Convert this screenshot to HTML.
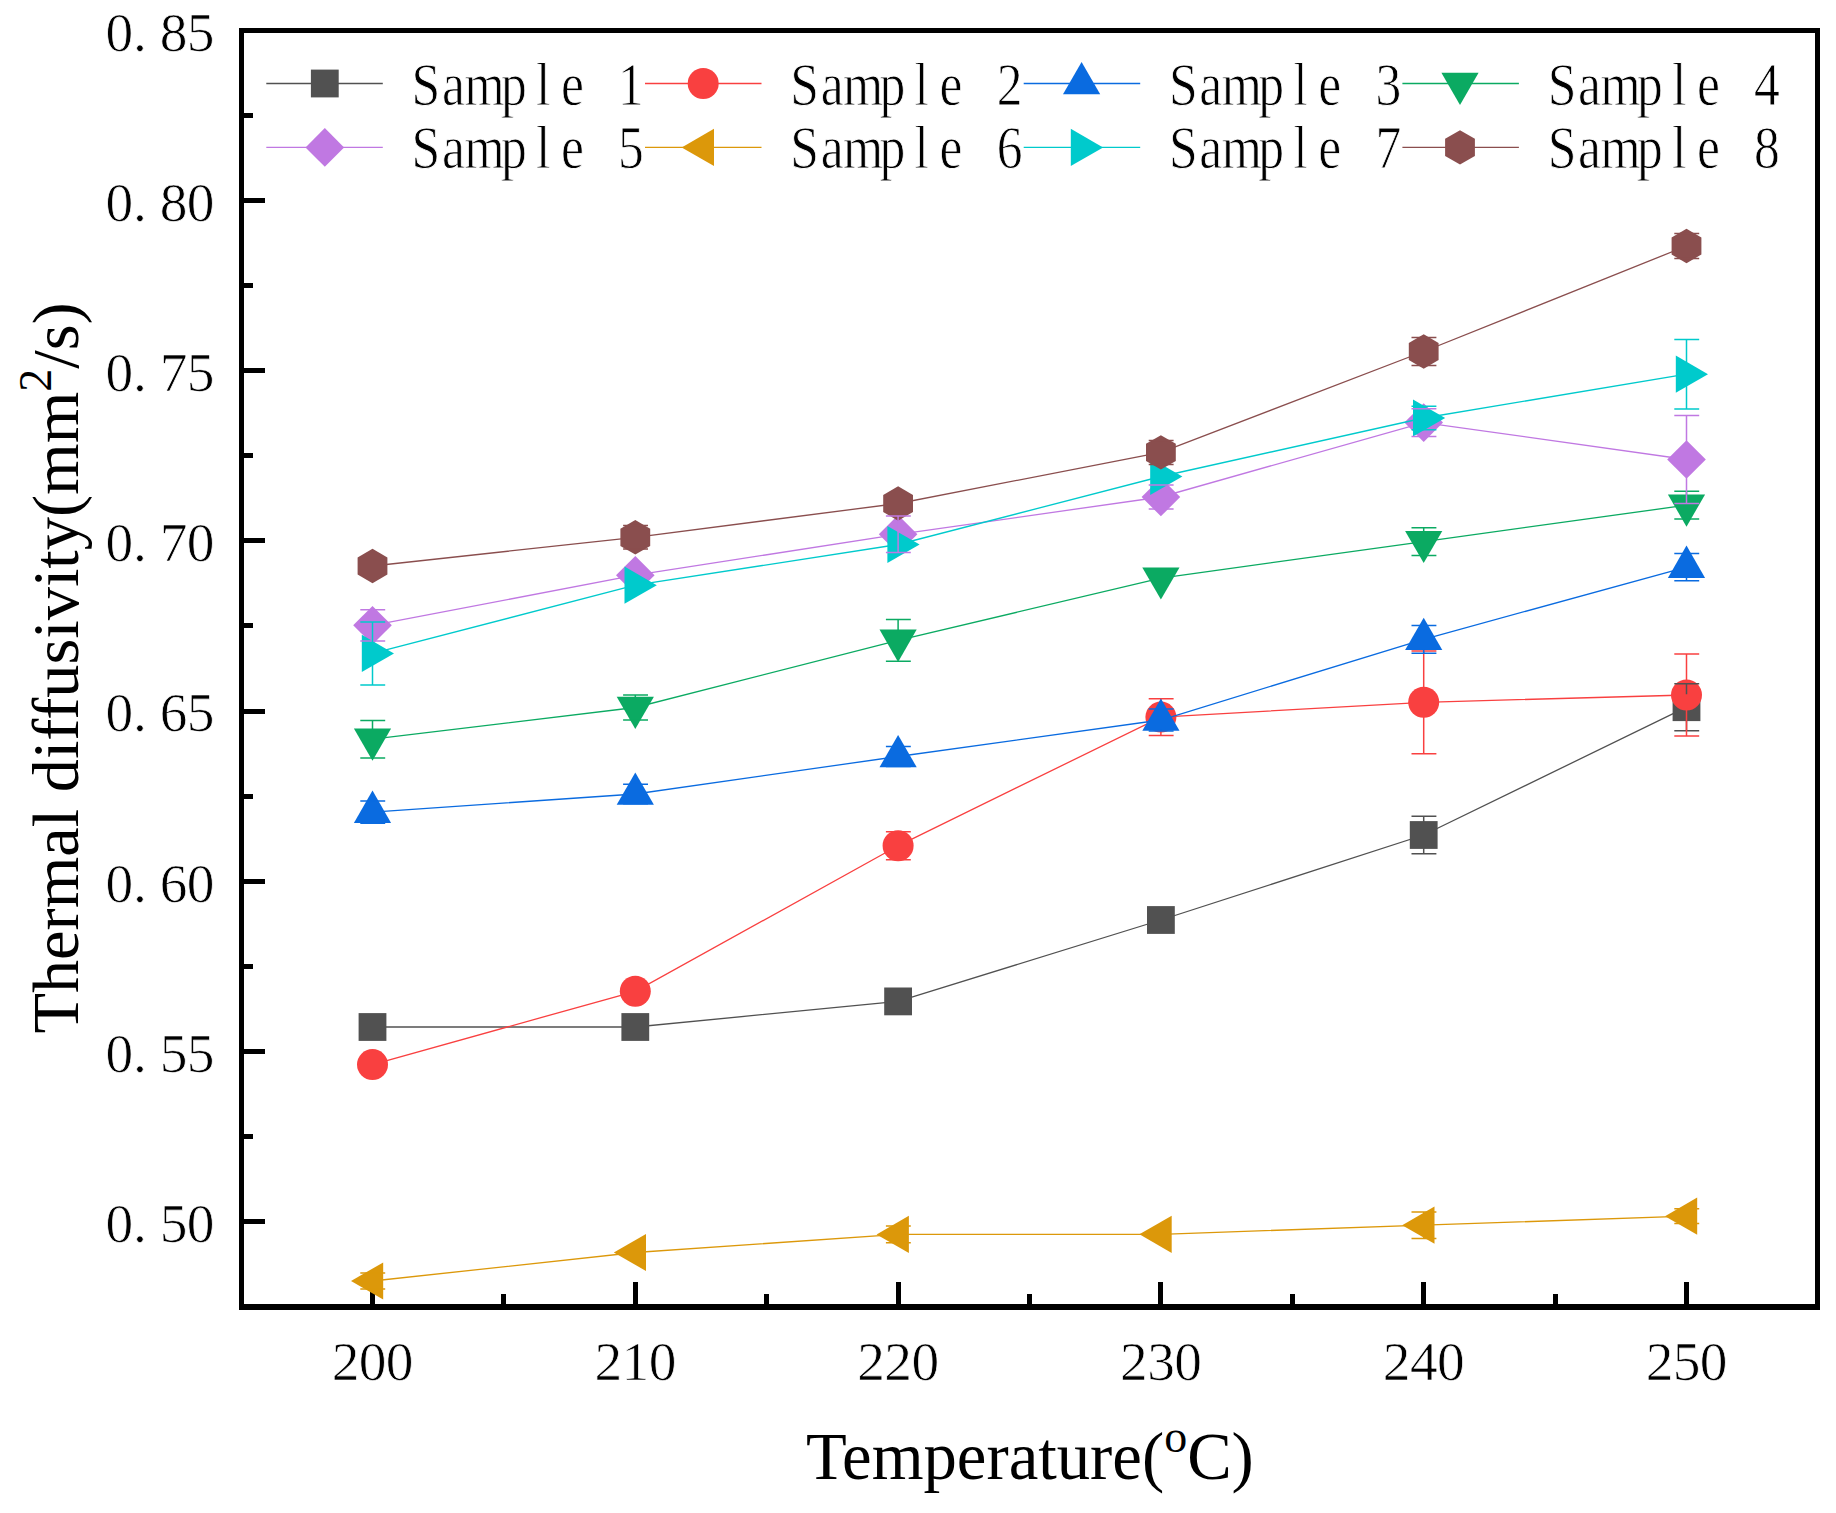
<!DOCTYPE html>
<html><head><meta charset="utf-8"><title>Thermal diffusivity</title>
<style>
html,body{margin:0;padding:0;background:#fff}
body{width:1836px;height:1513px;overflow:hidden}
svg{display:block}
.tk{font-family:"Liberation Serif",serif;font-size:55.4px;fill:#000;stroke:#fff;stroke-width:0.7px}
.lg{font-family:"Liberation Serif",serif;font-size:51.6px;fill:#000;stroke:#fff;stroke-width:0.7px}
.ti{font-family:"Liberation Serif",serif;font-size:66.7px;fill:#000}
</style></head><body>
<svg width="1836" height="1513" viewBox="0 0 1836 1513">
<rect width="1836" height="1513" fill="#fff"/>
<g fill="#000"><rect x="239" y="28" width="1581" height="5"/><rect x="239" y="1304" width="1581" height="6"/><rect x="239" y="28" width="5" height="1282"/><rect x="1815" y="28" width="5" height="1282"/><rect x="370.0" y="1282" width="5" height="23"/><rect x="633.0" y="1282" width="5" height="23"/><rect x="896.0" y="1282" width="5" height="23"/><rect x="1158.0" y="1282" width="5" height="23"/><rect x="1421.0" y="1282" width="5" height="23"/><rect x="1684.0" y="1282" width="5" height="23"/><rect x="501.0" y="1294" width="5" height="11"/><rect x="764.0" y="1294" width="5" height="11"/><rect x="1027.0" y="1294" width="5" height="11"/><rect x="1290.0" y="1294" width="5" height="11"/><rect x="1553.0" y="1294" width="5" height="11"/><rect x="243" y="198.0" width="22" height="5"/><rect x="243" y="368.0" width="22" height="5"/><rect x="243" y="538.0" width="22" height="5"/><rect x="243" y="709.0" width="22" height="5"/><rect x="243" y="879.0" width="22" height="5"/><rect x="243" y="1049.0" width="22" height="5"/><rect x="243" y="1219.0" width="22" height="5"/><rect x="243" y="113.0" width="10" height="5"/><rect x="243" y="283.0" width="10" height="5"/><rect x="243" y="453.0" width="10" height="5"/><rect x="243" y="623.0" width="10" height="5"/><rect x="243" y="794.0" width="10" height="5"/><rect x="243" y="964.0" width="10" height="5"/><rect x="243" y="1134.0" width="10" height="5"/></g>
<g id="series">
<polyline points="372.5,1027.0 635.3,1027.0 898.1,1001.4 1160.9,920.0 1423.7,835.0 1686.5,707.2" fill="none" stroke="#515151" stroke-width="1.3"/><rect x="358.6" y="1013.1" width="27.8" height="27.8" fill="#515151"/><rect x="621.4" y="1013.1" width="27.8" height="27.8" fill="#515151"/><rect x="884.2" y="987.5" width="27.8" height="27.8" fill="#515151"/><rect x="1147.0" y="906.1" width="27.8" height="27.8" fill="#515151"/><rect x="1409.8" y="821.1" width="27.8" height="27.8" fill="#515151"/><rect x="1672.6" y="693.3" width="27.8" height="27.8" fill="#515151"/>
<polyline points="372.5,1064.6 635.3,991.3 898.1,845.8 1160.9,717.1 1423.7,702.3 1686.5,695.0" fill="none" stroke="#F94040" stroke-width="1.3"/><circle cx="372.5" cy="1064.6" r="15.5" fill="#F94040"/><circle cx="635.3" cy="991.3" r="15.5" fill="#F94040"/><circle cx="898.1" cy="845.8" r="15.5" fill="#F94040"/><circle cx="1160.9" cy="717.1" r="15.5" fill="#F94040"/><circle cx="1423.7" cy="702.3" r="15.5" fill="#F94040"/><circle cx="1686.5" cy="695.0" r="15.5" fill="#F94040"/>
<path d="M1423.7 816.2V822.1M1423.7 847.9V853.8M1411.5 816.2h24.9M1411.5 853.8h24.9" stroke="#515151" stroke-width="1.5" fill="none"/><path d="M1686.5 683.7V694.3M1686.5 720.1V730.7M1674.3 683.7h24.9M1674.3 730.7h24.9" stroke="#515151" stroke-width="1.5" fill="none"/>
<path d="M885.9 831.8h24.9M885.9 859.8h24.9" stroke="#F94040" stroke-width="1.5" fill="none"/><path d="M1160.9 698.7V702.6M1160.9 731.6V735.5M1148.7 698.7h24.9M1148.7 735.5h24.9" stroke="#F94040" stroke-width="1.5" fill="none"/><path d="M1423.7 650.9V687.8M1423.7 716.8V753.7M1411.5 650.9h24.9M1411.5 753.7h24.9" stroke="#F94040" stroke-width="1.5" fill="none"/><path d="M1686.5 654.0V680.5M1686.5 709.5V736.0M1674.3 654.0h24.9M1674.3 736.0h24.9" stroke="#F94040" stroke-width="1.5" fill="none"/>
<polyline points="372.5,812.1 635.3,794.0 898.1,756.5 1160.9,720.0 1423.7,639.3 1686.5,567.1" fill="none" stroke="#0A6BE0" stroke-width="1.3"/><polygon points="372.5,790.6 391.1,822.9 353.9,822.9" fill="#0A6BE0"/><polygon points="635.3,772.5 653.9,804.8 616.7,804.8" fill="#0A6BE0"/><polygon points="898.1,735.0 916.7,767.2 879.5,767.2" fill="#0A6BE0"/><polygon points="1160.9,698.5 1179.5,730.8 1142.3,730.8" fill="#0A6BE0"/><polygon points="1423.7,617.8 1442.3,650.0 1405.1,650.0" fill="#0A6BE0"/><polygon points="1686.5,545.6 1705.1,577.9 1667.9,577.9" fill="#0A6BE0"/>
<polyline points="372.5,739.2 635.3,707.5 898.1,640.4 1160.9,578.1 1423.7,541.6 1686.5,505.2" fill="none" stroke="#0BAA62" stroke-width="1.3"/><polygon points="372.5,760.7 353.9,728.5 391.1,728.5" fill="#0BAA62"/><polygon points="635.3,729.0 616.7,696.8 653.9,696.8" fill="#0BAA62"/><polygon points="898.1,661.9 879.5,629.6 916.7,629.6" fill="#0BAA62"/><polygon points="1160.9,599.6 1142.3,567.4 1179.5,567.4" fill="#0BAA62"/><polygon points="1423.7,563.1 1405.1,530.9 1442.3,530.9" fill="#0BAA62"/><polygon points="1686.5,526.7 1667.9,494.4 1705.1,494.4" fill="#0BAA62"/>
<path d="M372.5 821.9V823.2M360.3 801.0h24.9M360.3 823.2h24.9" stroke="#0A6BE0" stroke-width="1.5" fill="none"/><path d="M623.1 784.2h24.9M623.1 803.8h24.9" stroke="#0A6BE0" stroke-width="1.5" fill="none"/><path d="M885.9 746.6h24.9M885.9 766.4h24.9" stroke="#0A6BE0" stroke-width="1.5" fill="none"/><path d="M1160.9 729.8V731.1M1148.7 708.9h24.9M1148.7 731.1h24.9" stroke="#0A6BE0" stroke-width="1.5" fill="none"/><path d="M1423.7 649.0V653.2M1411.5 625.4h24.9M1411.5 653.2h24.9" stroke="#0A6BE0" stroke-width="1.5" fill="none"/><path d="M1686.5 576.9V580.7M1674.3 553.5h24.9M1674.3 580.7h24.9" stroke="#0A6BE0" stroke-width="1.5" fill="none"/>
<path d="M372.5 720.5V729.5M360.3 720.5h24.9M360.3 757.9h24.9" stroke="#0BAA62" stroke-width="1.5" fill="none"/><path d="M635.3 695.0V697.8M623.1 695.0h24.9M623.1 720.0h24.9" stroke="#0BAA62" stroke-width="1.5" fill="none"/><path d="M898.1 619.6V630.6M885.9 619.6h24.9M885.9 661.2h24.9" stroke="#0BAA62" stroke-width="1.5" fill="none"/><path d="M1423.7 527.7V531.9M1411.5 527.7h24.9M1411.5 555.5h24.9" stroke="#0BAA62" stroke-width="1.5" fill="none"/><path d="M1686.5 491.3V495.4M1674.3 491.3h24.9M1674.3 519.1h24.9" stroke="#0BAA62" stroke-width="1.5" fill="none"/>
<polyline points="372.5,625.3 635.3,575.2 898.1,534.3 1160.9,497.0 1423.7,422.6 1686.5,459.5" fill="none" stroke="#C078E2" stroke-width="1.3"/><polygon points="372.5,606.0 391.8,625.3 372.5,644.6 353.2,625.3" fill="#C078E2"/><polygon points="635.3,555.9 654.6,575.2 635.3,594.5 616.0,575.2" fill="#C078E2"/><polygon points="898.1,515.0 917.4,534.3 898.1,553.6 878.8,534.3" fill="#C078E2"/><polygon points="1160.9,477.7 1180.2,497.0 1160.9,516.3 1141.6,497.0" fill="#C078E2"/><polygon points="1423.7,403.3 1443.0,422.6 1423.7,441.9 1404.4,422.6" fill="#C078E2"/><polygon points="1686.5,440.2 1705.8,459.5 1686.5,478.8 1667.2,459.5" fill="#C078E2"/>
<polyline points="372.5,1281.0 635.3,1252.5 898.1,1234.4 1160.9,1234.3 1423.7,1225.2 1686.5,1216.2" fill="none" stroke="#DC980A" stroke-width="1.3"/><polygon points="351.0,1281.0 383.2,1262.4 383.2,1299.6" fill="#DC980A"/><polygon points="613.8,1252.5 646.0,1233.9 646.0,1271.1" fill="#DC980A"/><polygon points="876.6,1234.4 908.9,1215.8 908.9,1253.0" fill="#DC980A"/><polygon points="1139.4,1234.3 1171.7,1215.7 1171.7,1252.9" fill="#DC980A"/><polygon points="1402.2,1225.2 1434.5,1206.6 1434.5,1243.8" fill="#DC980A"/><polygon points="1665.0,1216.2 1697.2,1197.6 1697.2,1234.8" fill="#DC980A"/>
<polyline points="372.5,653.4 635.3,585.2 898.1,544.5 1160.9,476.5 1423.7,418.0 1686.5,374.2" fill="none" stroke="#00CACC" stroke-width="1.3"/><polygon points="394.0,653.4 361.8,672.0 361.8,634.8" fill="#00CACC"/><polygon points="656.8,585.2 624.5,603.8 624.5,566.6" fill="#00CACC"/><polygon points="919.6,544.5 887.4,563.1 887.4,525.9" fill="#00CACC"/><polygon points="1182.4,476.5 1150.2,495.1 1150.2,457.9" fill="#00CACC"/><polygon points="1445.2,418.0 1413.0,436.6 1413.0,399.4" fill="#00CACC"/><polygon points="1708.0,374.2 1675.8,392.8 1675.8,355.6" fill="#00CACC"/>
<polyline points="372.5,566.0 635.3,537.3 898.1,503.5 1160.9,452.4 1423.7,351.5 1686.5,246.0" fill="none" stroke="#8A4E4E" stroke-width="1.3"/><polygon points="372.5,548.8 387.4,557.4 387.4,574.6 372.5,583.2 357.6,574.6 357.6,557.4" fill="#8A4E4E"/><polygon points="635.3,520.1 650.2,528.7 650.2,545.9 635.3,554.5 620.4,545.9 620.4,528.7" fill="#8A4E4E"/><polygon points="898.1,486.3 913.0,494.9 913.0,512.1 898.1,520.7 883.2,512.1 883.2,494.9" fill="#8A4E4E"/><polygon points="1160.9,435.2 1175.8,443.8 1175.8,461.0 1160.9,469.6 1146.0,461.0 1146.0,443.8" fill="#8A4E4E"/><polygon points="1423.7,334.3 1438.6,342.9 1438.6,360.1 1423.7,368.7 1408.8,360.1 1408.8,342.9" fill="#8A4E4E"/><polygon points="1686.5,228.8 1701.4,237.4 1701.4,254.6 1686.5,263.2 1671.6,254.6 1671.6,237.4" fill="#8A4E4E"/>
<path d="M360.3 609.7h24.9M360.3 640.9h24.9" stroke="#C078E2" stroke-width="1.5" fill="none"/><path d="M898.1 516.0V552.6M885.9 516.0h24.9M885.9 552.6h24.9" stroke="#C078E2" stroke-width="1.5" fill="none"/><path d="M1148.7 485.1h24.9M1148.7 508.9h24.9" stroke="#C078E2" stroke-width="1.5" fill="none"/><path d="M1411.5 408.8h24.9M1411.5 436.4h24.9" stroke="#C078E2" stroke-width="1.5" fill="none"/><path d="M1686.5 415.5V441.2M1686.5 477.8V503.5M1674.3 415.5h24.9M1674.3 503.5h24.9" stroke="#C078E2" stroke-width="1.5" fill="none"/>
<path d="M360.3 1273.0h24.9M360.3 1289.0h24.9" stroke="#DC980A" stroke-width="1.5" fill="none"/><path d="M885.9 1226.1h24.9M885.9 1242.7h24.9" stroke="#DC980A" stroke-width="1.5" fill="none"/><path d="M1423.7 1211.9V1213.8M1423.7 1236.6V1238.5M1411.5 1211.9h24.9M1411.5 1238.5h24.9" stroke="#DC980A" stroke-width="1.5" fill="none"/><path d="M1674.3 1208.8h24.9M1674.3 1223.6h24.9" stroke="#DC980A" stroke-width="1.5" fill="none"/>
<path d="M372.5 621.9V642.0M372.5 664.8V684.9M360.3 621.9h24.9M360.3 684.9h24.9" stroke="#00CACC" stroke-width="1.5" fill="none"/><path d="M1411.5 406.3h24.9M1411.5 429.7h24.9" stroke="#00CACC" stroke-width="1.5" fill="none"/><path d="M1686.5 339.5V362.8M1686.5 385.6V408.9M1674.3 339.5h24.9M1674.3 408.9h24.9" stroke="#00CACC" stroke-width="1.5" fill="none"/>
<path d="M623.1 525.5h24.9M623.1 549.1h24.9" stroke="#8A4E4E" stroke-width="1.5" fill="none"/><path d="M1148.7 440.4h24.9M1148.7 464.4h24.9" stroke="#8A4E4E" stroke-width="1.5" fill="none"/><path d="M1411.5 337.6h24.9M1411.5 365.4h24.9" stroke="#8A4E4E" stroke-width="1.5" fill="none"/><path d="M1674.3 233.5h24.9M1674.3 258.5h24.9" stroke="#8A4E4E" stroke-width="1.5" fill="none"/>
</g>
<text class="tk" text-anchor="middle" x="119.4 140.0 173.6 200.7" y="50.8">0.85</text>
<text class="tk" text-anchor="middle" x="119.4 140.0 173.6 200.7" y="220.9">0.80</text>
<text class="tk" text-anchor="middle" x="119.4 140.0 173.6 200.7" y="391.1">0.75</text>
<text class="tk" text-anchor="middle" x="119.4 140.0 173.6 200.7" y="561.2">0.70</text>
<text class="tk" text-anchor="middle" x="119.4 140.0 173.6 200.7" y="731.4">0.65</text>
<text class="tk" text-anchor="middle" x="119.4 140.0 173.6 200.7" y="901.5">0.60</text>
<text class="tk" text-anchor="middle" x="119.4 140.0 173.6 200.7" y="1071.6">0.55</text>
<text class="tk" text-anchor="middle" x="119.4 140.0 173.6 200.7" y="1241.8">0.50</text>
<text class="tk" text-anchor="middle" x="345.5 372.6 399.7" y="1380.1">200</text>
<text class="tk" text-anchor="middle" x="608.3 635.4 662.5" y="1380.1">210</text>
<text class="tk" text-anchor="middle" x="871.1 898.2 925.3" y="1380.1">220</text>
<text class="tk" text-anchor="middle" x="1133.9 1161.0 1188.1" y="1380.1">230</text>
<text class="tk" text-anchor="middle" x="1396.7 1423.8 1450.9" y="1380.1">240</text>
<text class="tk" text-anchor="middle" x="1659.5 1686.6 1713.7" y="1380.1">250</text>
<text class="ti" text-anchor="middle" x="1029.9" y="1479">Temperature(<tspan font-size="46" dy="-27">o</tspan><tspan dy="27">C)</tspan></text>
<text class="ti" style="font-size:66.35px" text-anchor="middle" transform="translate(77.8 668) rotate(-90)">Thermal diffusivity(mm<tspan font-size="46" dy="-27">2</tspan><tspan dy="27">/s)</tspan></text>
<path d="M266.3 83.5h116.5" stroke="#515151" stroke-width="1.3"/><rect x="310.9" y="69.6" width="27.8" height="27.8" fill="#515151"/>
<text class="lg" text-anchor="middle" transform="translate(0 105.0) scale(1 1.185)" x="425.9 453.4 484.5 513.8 543.1 572.4 601.7 631.0" y="0">Sample 1</text>
<path d="M645.0 83.5h116.5" stroke="#F94040" stroke-width="1.3"/><circle cx="703.2" cy="83.5" r="15.5" fill="#F94040"/>
<text class="lg" text-anchor="middle" transform="translate(0 105.0) scale(1 1.185)" x="804.5 832.1 863.1 892.4 921.8 951.0 980.4 1009.6" y="0">Sample 2</text>
<path d="M1023.7 83.5h116.5" stroke="#0A6BE0" stroke-width="1.3"/><polygon points="1081.6,62.0 1100.2,94.2 1063.0,94.2" fill="#0A6BE0"/>
<text class="lg" text-anchor="middle" transform="translate(0 105.0) scale(1 1.185)" x="1183.3 1210.8 1241.9 1271.2 1300.5 1329.8 1359.1 1388.4" y="0">Sample 3</text>
<path d="M1402.4 83.5h116.5" stroke="#0BAA62" stroke-width="1.3"/><polygon points="1460.0,105.0 1441.4,72.8 1478.6,72.7" fill="#0BAA62"/>
<text class="lg" text-anchor="middle" transform="translate(0 105.0) scale(1 1.185)" x="1562.0 1589.5 1620.5 1649.8 1679.1 1708.5 1737.8 1767.0" y="0">Sample 4</text>
<path d="M266.3 147.4h116.5" stroke="#C078E2" stroke-width="1.3"/><polygon points="324.8,128.1 344.1,147.4 324.8,166.7 305.5,147.4" fill="#C078E2"/>
<text class="lg" text-anchor="middle" transform="translate(0 168.2) scale(1 1.185)" x="425.9 453.4 484.5 513.8 543.1 572.4 601.7 631.0" y="0">Sample 5</text>
<path d="M645.0 147.4h116.5" stroke="#DC980A" stroke-width="1.3"/><polygon points="681.7,147.4 714.0,128.8 714.0,166.0" fill="#DC980A"/>
<text class="lg" text-anchor="middle" transform="translate(0 168.2) scale(1 1.185)" x="804.5 832.1 863.1 892.4 921.8 951.0 980.4 1009.6" y="0">Sample 6</text>
<path d="M1023.7 147.4h116.5" stroke="#00CACC" stroke-width="1.3"/><polygon points="1103.1,147.4 1070.8,166.0 1070.8,128.8" fill="#00CACC"/>
<text class="lg" text-anchor="middle" transform="translate(0 168.2) scale(1 1.185)" x="1183.3 1210.8 1241.9 1271.2 1300.5 1329.8 1359.1 1388.4" y="0">Sample 7</text>
<path d="M1402.4 147.4h116.5" stroke="#8A4E4E" stroke-width="1.3"/><polygon points="1460.0,130.2 1474.9,138.8 1474.9,156.0 1460.0,164.6 1445.1,156.0 1445.1,138.8" fill="#8A4E4E"/>
<text class="lg" text-anchor="middle" transform="translate(0 168.2) scale(1 1.185)" x="1562.0 1589.5 1620.5 1649.8 1679.1 1708.5 1737.8 1767.0" y="0">Sample 8</text>
</svg></body></html>
